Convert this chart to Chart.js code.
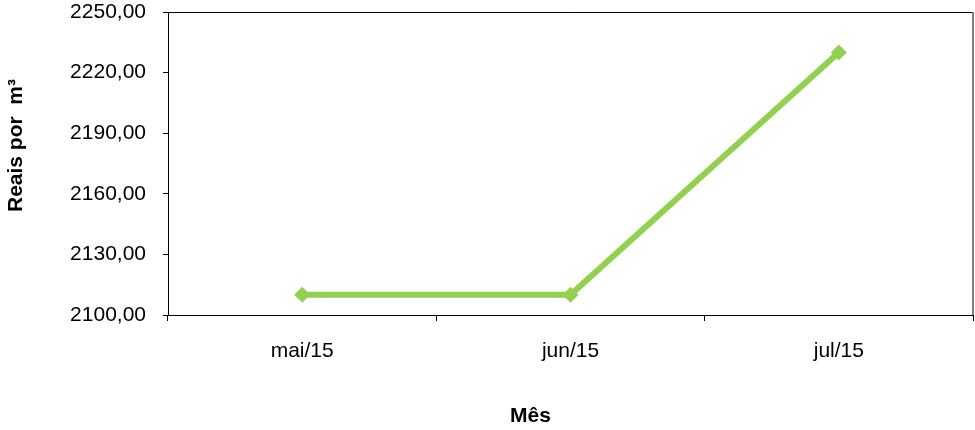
<!DOCTYPE html>
<html>
<head>
<meta charset="utf-8">
<script src="https://cdn.jsdelivr.net/npm/chart.js@4/dist/chart.umd.min.js"></script>
<style>
    html, body { margin: 0; padding: 0; background: #fff; }
    #wrap { width: 975px; height: 430px; position: relative; }
</style>
</head>
<body>
<div id="wrap"><canvas id="priceChart"></canvas></div>
<script>
/* ----- data ----- */
const months = ['mai/15', 'jun/15', 'jul/15'];
const pricePerM3 = [2110, 2110, 2230];
const yMin = 2100;
const yMax = 2250;
const yStep = 30;

const xTitle = 'Mês';
const yTitle = 'Reais por  m³';

const green = '#92D050';
const font = 'Arial, "Liberation Sans", sans-serif';

/* frame + axis titles (drawn off the chart area) */
const framePlugin = {
    id: 'frame',
    afterDraw(chart) {
        const { ctx, chartArea: a } = chart;
        ctx.save();
        ctx.lineWidth = 1;
        ctx.strokeStyle = '#000';
        ctx.beginPath();
        ctx.moveTo(a.left, a.top + 0.5);
        ctx.lineTo(a.right, a.top + 0.5);
        ctx.stroke();
        ctx.strokeStyle = '#808080';
        ctx.lineWidth = 2;
        ctx.beginPath();
        ctx.moveTo(a.right, a.top);
        ctx.lineTo(a.right, a.bottom);
        ctx.stroke();

        ctx.fillStyle = '#000';
        ctx.font = 'bold 21px ' + font;
        ctx.textAlign = 'center';
        ctx.textBaseline = 'middle';
        ctx.fillText(xTitle, (a.left + a.right) / 2 - 40, 416);

        ctx.translate(16, (a.top + a.bottom) / 2 - 18);
        ctx.rotate(-Math.PI / 2);
        ctx.fillText(yTitle, 0, 0);
        ctx.restore();
    }
};

new Chart(document.getElementById('priceChart'), {
    type: 'line',
    data: {
        labels: months,
        datasets: [{
            data: pricePerM3,
            borderColor: green,
            backgroundColor: green,
            borderWidth: 6,
            pointStyle: 'rectRot',
            pointRadius: 8,
            pointBackgroundColor: green,
            pointBorderColor: green,
            pointBorderWidth: 0,
            tension: 0
        }]
    },
    plugins: [framePlugin],
    options: {
        responsive: true,
        maintainAspectRatio: false,
        animation: false,
        layout: { autoPadding: false, padding: { top: 12, right: 2, left: 0, bottom: 0 } },
        plugins: {
            legend: { display: false },
            tooltip: { enabled: false }
        },
        scales: {
            x: {
                offset: true,
                grid: {
                    offset: true,
                    drawOnChartArea: false,
                    drawTicks: true,
                    tickLength: 6,
                    color: '#000'
                },
                border: { display: true, color: '#000', width: 1 },
                ticks: {
                    color: '#000',
                    padding: 20,
                    maxRotation: 0,
                    font: { family: font, size: 21, lineHeight: 1 }
                },
                afterFit: (scale) => { scale.height = 115; }
            },
            y: {
                min: yMin,
                max: yMax,
                grid: {
                    drawOnChartArea: false,
                    drawTicks: true,
                    tickLength: 5,
                    color: '#000'
                },
                border: { display: true, color: '#000', width: 1 },
                ticks: {
                    stepSize: yStep,
                    color: '#000',
                    padding: 17,
                    font: { family: font, size: 21, lineHeight: 1 },
                    callback: (v) => v.toFixed(2).replace('.', ',')
                },
                afterFit: (scale) => {
                    scale.width = 168;
                    scale.paddingTop = 0;
                    scale.paddingBottom = 0;
                }
            }
        }
    }
});
</script>
</body>
</html>
